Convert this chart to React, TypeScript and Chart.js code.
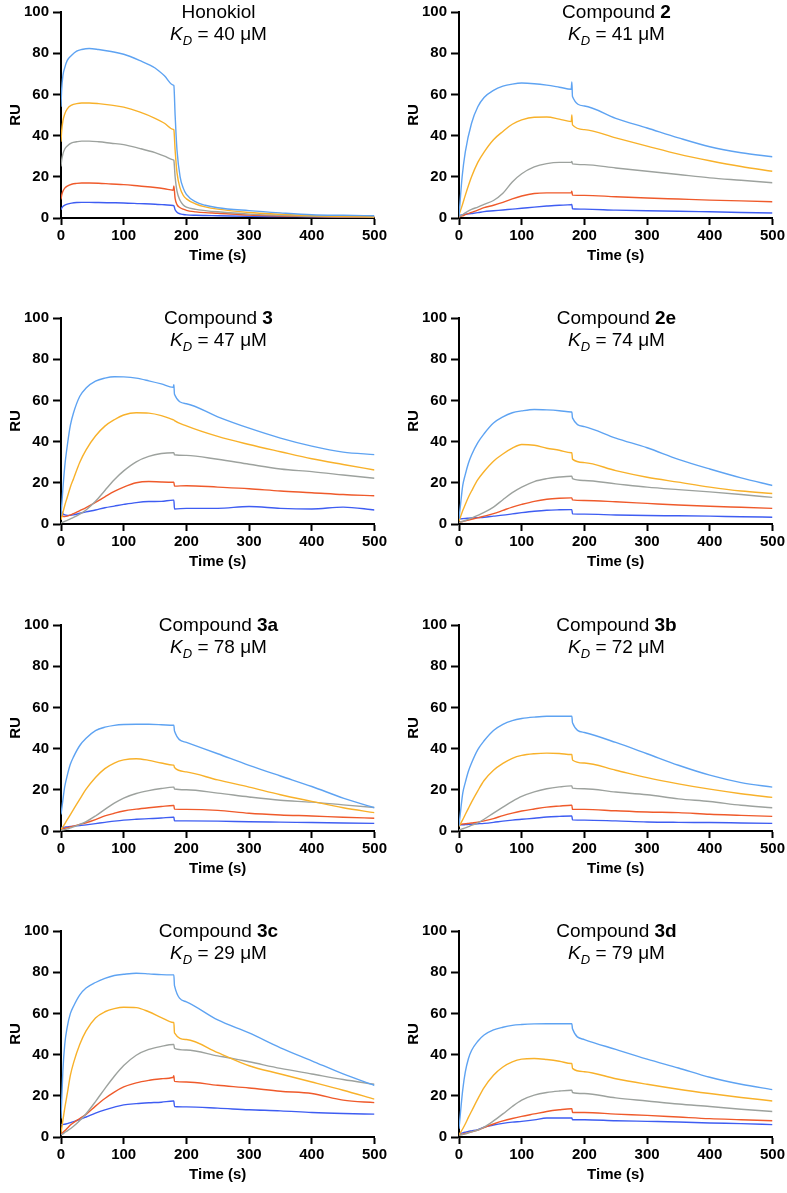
import React, { useEffect, useRef } from "react";
import { Chart, registerables } from "chart.js";
Chart.register(...registerables);

// ---- shared axes / styling values ----
const X_TICKS = [0, 100, 200, 300, 400, 500];
const Y_TICKS = [0, 20, 40, 60, 80, 100];
const COLORS = ["#5EA3F2", "#F8B12A", "#9DA29E", "#EF5A2B", "#3E5DF2"];

// ---- time grids (s) ----
const TIME_HON = [0, 1, 3, 6, 10, 17, 25, 33, 45, 60, 80, 100, 125, 150, 165, 179, 180, 182, 185, 190, 195, 200, 215, 230, 250, 300, 350, 400, 450, 500];
const TIME_C2 = [0, 5, 10, 20, 30, 40, 55, 70, 85, 100, 120, 140, 160, 179, 180, 181, 200, 250, 300, 350, 400, 450, 500];
const TIME = [0, 3, 6, 10, 15, 20, 30, 40, 55, 70, 85, 100, 120, 140, 160, 179, 180, 181, 200, 250, 300, 350, 400, 450, 500];

// ---- Honokiol (RU) ----
const hon1 = [54, 62, 69, 73, 76.5, 79, 81, 81.8, 82.3, 81.8, 80.8, 79.5, 76.5, 72.8, 69, 64.5, 64.3, 50, 33, 20, 14.5, 11.5, 7.8, 6.2, 5, 3.6, 2.5, 1.6, 1.3, 1.1];
const hon2 = [37, 42, 47, 50.5, 53, 54.8, 55.5, 55.8, 55.8, 55.5, 54.8, 53.8, 51.5, 48.4, 46, 43, 42.8, 33, 22, 14.5, 11, 9.3, 6.8, 5.4, 4.3, 2.7, 1.8, 1.1, 0.8, 0.5];
const hon3 = [25, 28, 31, 33.5, 35, 36.5, 37, 37.3, 37.3, 37, 36.3, 35.6, 33.8, 31.7, 30, 28.2, 28, 20, 13, 8.5, 6.3, 5.3, 4.2, 3.6, 3, 1.9, 1.3, 0.8, 0.6, 0.5];
const hon4 = [9, 11, 13, 14.5, 15.5, 16.4, 16.8, 17, 17, 16.9, 16.5, 16.2, 15.5, 14.8, 14.2, 13.5, 15.5, 9.5, 6.5, 5, 4.3, 3.7, 3, 2.6, 2.3, 1.4, 1, 0.7, 0.5, 0.4];
const hon5 = [4, 4.8, 5.6, 6.2, 6.7, 7.2, 7.5, 7.6, 7.6, 7.5, 7.4, 7.3, 7, 6.7, 6.4, 6.1, 6, 4, 2.8, 2, 1.7, 1.5, 1.3, 1.2, 1.1, 0.8, 0.7, 0.6, 0.5, 0.5];

// ---- Compound 2 ----
const c2_1 = [1, 20, 32, 46, 54, 58.5, 62, 64, 65, 65.5, 65.2, 64.5, 63.5, 62.5, 66, 59, 54.4, 48.4, 43.7, 38.9, 34.6, 31.7, 29.7];
const c2_2 = [1.5, 6, 11, 20, 27, 32, 38, 42, 45.5, 47.6, 48.9, 49, 48, 46.8, 50, 45.2, 42.9, 38.9, 34.9, 31, 27.8, 25, 22.7];
const c2_3 = [0.5, 1.5, 2.5, 4.2, 5.3, 6.6, 8.5, 12, 17.5, 21.5, 24.8, 26.4, 27, 27, 27.5, 26.3, 25.9, 24.3, 22.7, 21.1, 19.5, 18.3, 17.1];
const c2_4 = [0.5, 1, 1.6, 2.7, 3.8, 5, 6.2, 7.6, 9.3, 10.7, 11.9, 12.2, 12.2, 12.2, 13, 11.1, 11, 10.3, 9.7, 9.2, 8.7, 8.3, 7.9];
const c2_5 = [1.2, 1.5, 1.8, 2.2, 2.6, 3.1, 3.5, 3.9, 4.3, 4.7, 5.3, 5.8, 6.2, 6.5, 6.6, 4.5, 4.3, 3.8, 3.5, 3.3, 3, 2.7, 2.4];

// ---- Compound 3 ----
const c3_1 = [4, 17, 28, 38, 48, 54, 62, 66, 69.3, 70.8, 71.5, 71.4, 70.8, 69.5, 68, 66.3, 67.6, 63, 58.4, 52, 46.5, 41.7, 37.8, 34.9, 33.7];
const c3_2 = [2, 5.5, 9, 13, 18, 22, 30, 36, 42.7, 47.5, 50.6, 52.9, 54, 53.8, 52.6, 50.6, 50.5, 50.2, 47.6, 42.5, 38.6, 35.1, 31.7, 28.9, 26.2];
const c3_3 = [0.5, 0.9, 1.3, 1.8, 2.5, 3.2, 4.8, 6.8, 11, 16.3, 21.5, 25.8, 30.2, 32.8, 34.2, 34.6, 34.6, 33.6, 33.3, 31.4, 29, 26.7, 25.4, 23.8, 22.2];
const c3_4 = [5, 3.8, 3.6, 3.8, 4.4, 5, 6.5, 8, 10.5, 13.2, 15.8, 17.9, 20, 20.6, 20.4, 20.3, 20.3, 18.4, 18.6, 17.9, 17.1, 16, 15.2, 14.3, 13.7];
const c3_5 = [6.5, 5, 4.4, 4.2, 4.2, 4.4, 5.2, 5.9, 6.8, 7.9, 8.7, 9.5, 10.4, 10.9, 11, 11.6, 11.6, 7.3, 7.6, 7.6, 8.5, 7.6, 7.3, 8.2, 6.8];

// ---- Compound 2e ----
const c2e_1 = [2.5, 11, 18.7, 24, 29.5, 33.5, 39.5, 43.8, 49, 52, 54, 54.9, 55.6, 55.4, 55, 54.4, 54.4, 51.5, 47.3, 41.7, 37, 31.4, 26.7, 22.4, 18.7];
const c2e_2 = [1.5, 4, 6.5, 9.5, 13, 16, 21.5, 25.5, 30.5, 34, 36.8, 38.6, 38.2, 36.8, 35.8, 34.6, 34.6, 31.5, 29.8, 25.9, 22.7, 20.3, 17.9, 16, 14.8];
const c2e_3 = [0.8, 1, 1.3, 1.7, 2.3, 2.9, 4.2, 5.6, 8.2, 11.8, 15.2, 17.9, 20.6, 22, 22.8, 23.2, 23.2, 22, 21.1, 19.5, 17.9, 16.7, 15.6, 14.3, 12.9];
const c2e_4 = [0.8, 1, 1.2, 1.5, 1.9, 2.3, 3, 3.8, 5, 6.6, 8.2, 9.5, 11, 12, 12.5, 12.7, 12.7, 11.7, 11.4, 10.8, 10, 9.2, 8.6, 8.1, 7.6];
const c2e_5 = [2.5, 2.5, 2.6, 2.7, 2.8, 2.9, 3.1, 3.3, 3.8, 4.3, 4.9, 5.5, 6.2, 6.7, 6.9, 7, 7, 4.9, 4.8, 4.4, 4.1, 4, 3.8, 3.5, 3.3];

// ---- Compound 3a ----
const c3a_1 = [8, 15, 21.6, 27, 32.5, 36, 41.5, 45, 48.7, 50.4, 51.3, 51.7, 51.8, 51.8, 51.6, 51.3, 51.3, 48.5, 43, 37.5, 31.9, 26.7, 21.6, 16, 11.3];
const c3a_2 = [0.8, 2, 3.5, 5.5, 8, 10.5, 15.5, 20.3, 26, 30.3, 33, 34.5, 35.1, 34.3, 33, 32, 32, 30.8, 28.7, 24.8, 21.3, 17.6, 14.4, 11.3, 8.9];
const c3a_3 = [0.3, 0.5, 0.7, 1, 1.5, 2, 3.2, 4.5, 7.3, 10.5, 13.5, 16, 18.2, 19.6, 20.6, 21.3, 21.3, 20.4, 20, 18.4, 16.5, 14.9, 14, 12.7, 11.4];
const c3a_4 = [1, 1.1, 1.3, 1.6, 2, 2.4, 3.2, 4, 5.5, 7.3, 8.6, 9.7, 10.6, 11.3, 11.9, 12.4, 12.4, 10.6, 10.5, 10, 8.6, 7.8, 7.3, 6.7, 6.2];
const c3a_5 = [1.7, 1.8, 1.9, 2, 2.2, 2.3, 2.6, 3, 3.6, 4.2, 4.8, 5.3, 5.7, 6, 6.3, 6.7, 6.7, 4.9, 4.9, 4.8, 4.5, 4.3, 4.1, 3.9, 3.7];

// ---- Compound 3b ----
const c3b_1 = [2.5, 11, 18.4, 23.5, 29, 33, 39.5, 43.8, 48.8, 51.8, 53.6, 54.6, 55.3, 55.7, 55.7, 55.7, 55.7, 52.5, 47.8, 43, 37.5, 31.9, 27.1, 23.5, 21.3];
const c3b_2 = [2.2, 3.8, 5.5, 8, 11, 14, 19.5, 24.5, 29.5, 32.8, 35.3, 36.7, 37.5, 37.8, 37.6, 37.1, 37.1, 34.5, 33, 29.5, 25.9, 22.9, 20.3, 18.1, 16.3];
const c3b_3 = [0.5, 0.8, 1.1, 1.5, 2.1, 2.7, 4, 5.7, 8.7, 11.6, 14.4, 16.8, 19, 20.5, 21.4, 21.9, 21.9, 20.8, 20.5, 18.9, 17.6, 15.6, 14.3, 12.5, 11.3];
const c3b_4 = [3.3, 3.3, 3.4, 3.5, 3.7, 3.9, 4.3, 4.9, 6, 7.5, 8.7, 9.7, 10.7, 11.6, 12.1, 12.5, 12.5, 10.5, 10.5, 9.8, 9.2, 8.9, 8.1, 7.6, 7.1];
const c3b_5 = [2.9, 3, 3, 3.1, 3.2, 3.3, 3.5, 3.7, 4.2, 4.8, 5.3, 5.7, 6.2, 6.8, 7.1, 7.3, 7.3, 5.4, 5.3, 4.9, 4.4, 4.2, 4.1, 3.9, 3.7];

// ---- Compound 3c ----
const c3c_1 = [9, 32, 45, 53.5, 60, 63.5, 69, 72.3, 75, 77, 78.4, 79, 79.5, 79.2, 78.8, 78.7, 78.7, 73.5, 65.6, 56.8, 50.5, 43.3, 37, 30.6, 25];
const c3c_2 = [2, 8, 14, 21, 30, 36, 45, 51.5, 57.8, 60.8, 62.3, 63, 62.8, 60.8, 58, 55.6, 55.6, 50.5, 47.3, 41, 34.6, 30.6, 26.7, 22.7, 18.4];
const c3c_3 = [1, 1.5, 2.2, 3, 4, 5.2, 8, 11.3, 17.2, 23.5, 29.5, 34.7, 39.7, 42.5, 44, 44.9, 44.9, 43, 42.2, 39.4, 36.5, 33.3, 30.6, 27.9, 25.6];
const c3c_4 = [1.3, 2.2, 3, 4.2, 5.8, 7, 9, 11, 15, 18.7, 21.8, 24.3, 26.3, 27.5, 28.3, 29, 29.8, 27, 26.7, 25.1, 23.8, 22.2, 21.1, 17.9, 16.7];
const c3c_5 = [6, 6.1, 6.2, 6.5, 7, 7.5, 8.5, 9.7, 11.6, 13.2, 14.5, 15.6, 16.2, 16.6, 16.9, 17.5, 17.5, 14.8, 14.6, 14, 13.2, 12.7, 11.9, 11.4, 11.1];

// ---- Compound 3d ----
const c3d_1 = [4, 14, 23, 31.5, 38, 42, 46.5, 49.5, 52, 53.3, 54.2, 54.6, 54.9, 55, 55, 55, 55, 52.5, 47.3, 42.5, 37.8, 33.5, 29, 25.6, 23];
const c3d_2 = [1.2, 2.5, 4, 6.3, 9.5, 12.5, 18.5, 24, 30, 34, 36.5, 37.8, 38.1, 37.6, 36.8, 35.7, 35.7, 33.3, 31.7, 28.3, 25.6, 23.2, 21.1, 19.2, 17.5];
const c3d_3 = [0.8, 1, 1.2, 1.5, 2, 2.5, 3.4, 4.8, 7.8, 11.2, 14.8, 17.9, 20.3, 21.6, 22.3, 22.7, 22.7, 21.6, 21.1, 19, 17.5, 16, 14.8, 13.5, 12.4];
const c3d_4 = [1, 1.2, 1.4, 1.7, 2.1, 2.5, 3.3, 4.6, 6.3, 7.8, 9, 10, 11.2, 12.4, 13.2, 13.7, 13.7, 11.9, 11.9, 11.1, 10.5, 9.7, 8.9, 8.4, 7.9];
const c3d_5 = [1.6, 1.8, 2, 2.3, 2.7, 3, 3.6, 4.8, 5.8, 6.6, 7.2, 7.6, 8.3, 9.2, 9.2, 9.2, 9.2, 8.4, 8.4, 7.9, 7.6, 7.3, 6.8, 6.5, 6];

type PanelDef = { plain: string; bold: string; kd: string; time: number[]; series: number[][] };

const PANELS: PanelDef[] = [
  { plain: "Honokiol", bold: "", kd: "40", time: TIME_HON, series: [hon1, hon2, hon3, hon4, hon5] },
  { plain: "Compound ", bold: "2", kd: "41", time: TIME_C2, series: [c2_1, c2_2, c2_3, c2_4, c2_5] },
  { plain: "Compound ", bold: "3", kd: "47", time: TIME, series: [c3_1, c3_2, c3_3, c3_4, c3_5] },
  { plain: "Compound ", bold: "2e", kd: "74", time: TIME, series: [c2e_1, c2e_2, c2e_3, c2e_4, c2e_5] },
  { plain: "Compound ", bold: "3a", kd: "78", time: TIME, series: [c3a_1, c3a_2, c3a_3, c3a_4, c3a_5] },
  { plain: "Compound ", bold: "3b", kd: "72", time: TIME, series: [c3b_1, c3b_2, c3b_3, c3b_4, c3b_5] },
  { plain: "Compound ", bold: "3c", kd: "29", time: TIME, series: [c3c_1, c3c_2, c3c_3, c3c_4, c3c_5] },
  { plain: "Compound ", bold: "3d", kd: "79", time: TIME, series: [c3d_1, c3d_2, c3d_3, c3d_4, c3d_5] },
];

const FONT = "'Liberation Sans', Arial, Helvetica, sans-serif";
const CANVAS_W = 389;
const CANVAS_H = 269;
const Y_AXIS_W = 61;
const X_AXIS_H = 50;
const PAD_TOP = 9;
const PAD_RIGHT = 13;
const COL_LEFT = [0, 398];
const ROW_TOP = [-1, 305, 612, 918];

function Panel({ def, left, top }: { def: PanelDef; left: number; top: number }) {
  const ref = useRef<HTMLCanvasElement | null>(null);
  useEffect(() => {
    const canvas = ref.current;
    if (!canvas) return;
    const tickFont = { family: FONT, size: 15, weight: "bold" as const };
    const chart = new Chart(canvas, {
      type: "line",
      data: {
        datasets: def.series.map((s, i) => ({
          data: def.time.map((t, j) => ({ x: t, y: s[j] })),
          borderColor: COLORS[i],
          backgroundColor: COLORS[i],
          borderWidth: 1.4,
          pointRadius: 0,
          cubicInterpolationMode: "monotone" as const,
          fill: false,
        })),
      },
      options: {
        animation: false,
        responsive: false,
        events: [],
        layout: { padding: { top: PAD_TOP, right: PAD_RIGHT, left: 0, bottom: 0 } },
        plugins: { legend: { display: false }, tooltip: { enabled: false }, title: { display: false } },
        scales: {
          x: {
            type: "linear",
            min: 0,
            max: 500,
            afterBuildTicks: (s: any) => {
              s.ticks = X_TICKS.map((v) => ({ value: v }));
            },
            afterFit: (s: any) => {
              s.height = X_AXIS_H;
            },
            grid: { display: true, drawOnChartArea: false, drawTicks: true, tickLength: 7, tickWidth: 2, tickColor: "#000" },
            border: { display: true, color: "#000", width: 2 },
            ticks: { color: "#000", font: tickFont, padding: 2, maxRotation: 0, autoSkip: false },
            title: { display: true, text: "Time (s)", color: "#000", font: tickFont, padding: { top: 0, bottom: 3 } },
          },
          y: {
            type: "linear",
            min: 0,
            max: 100,
            afterBuildTicks: (s: any) => {
              s.ticks = Y_TICKS.map((v) => ({ value: v }));
            },
            afterFit: (s: any) => {
              s.width = Y_AXIS_W;
            },
            grid: { display: true, drawOnChartArea: false, drawTicks: true, tickLength: 8, tickWidth: 2, tickColor: "#000" },
            border: { display: true, color: "#000", width: 2 },
            ticks: { color: "#000", font: tickFont, padding: 4, autoSkip: false },
            title: { display: true, text: "RU", color: "#000", font: tickFont, padding: { top: 7, bottom: 0 } },
          },
        },
      },
    });
    return () => chart.destroy();
  }, [def]);

  const plotLeft = left + Y_AXIS_W;
  const plotTop = top + PAD_TOP;
  const plotW = CANVAS_W - Y_AXIS_W - PAD_RIGHT;
  return (
    <>
      <canvas
        ref={ref}
        width={CANVAS_W}
        height={CANVAS_H}
        style={{ position: "absolute", left, top, width: CANVAS_W, height: CANVAS_H }}
      />
      <div
        style={{
          position: "absolute",
          left: plotLeft,
          top: plotTop - 7,
          width: plotW,
          textAlign: "center",
          fontFamily: FONT,
          fontSize: 19,
          lineHeight: "22px",
          color: "#000",
          pointerEvents: "none",
          whiteSpace: "nowrap",
        }}
      >
        <div>
          {def.plain}
          {def.bold ? <b>{def.bold}</b> : null}
        </div>
        <div>
          <i>K</i>
          <span style={{ fontStyle: "italic", fontSize: 13, position: "relative", top: 5 }}>D</span>
          {" = " + def.kd + " \u03bcM"}
        </div>
      </div>
    </>
  );
}

export default function App() {
  return (
    <div
      style={{
        position: "absolute",
        left: 0,
        top: 0,
        width: 787,
        height: 1193,
        overflow: "hidden",
        background: "#fff",
      }}
    >
      {PANELS.map((p, i) => (
        <Panel key={i} def={p} left={COL_LEFT[i % 2]} top={ROW_TOP[Math.floor(i / 2)]} />
      ))}
    </div>
  );
}
